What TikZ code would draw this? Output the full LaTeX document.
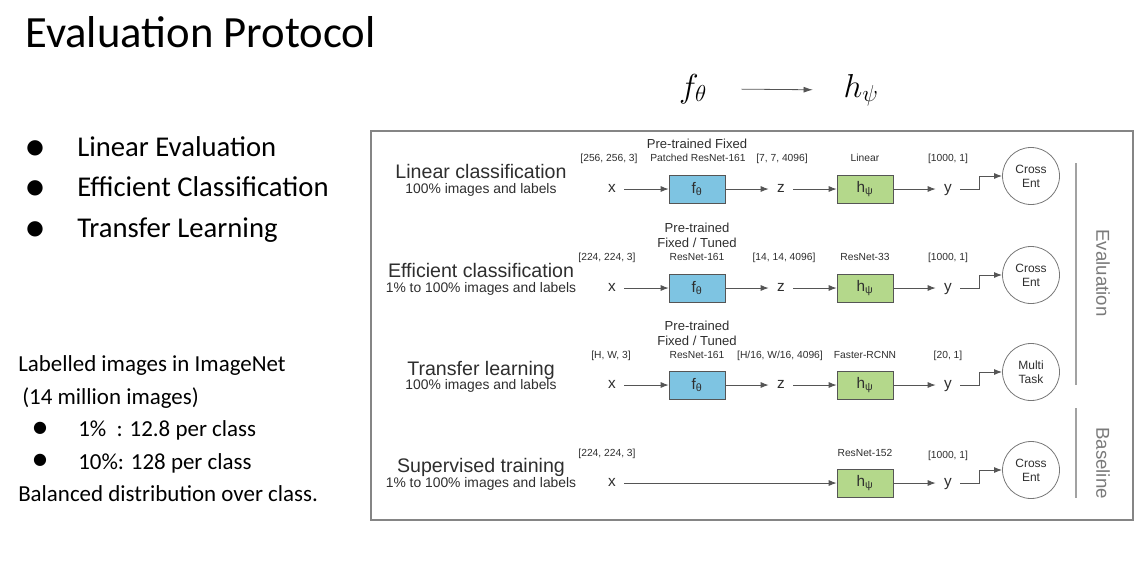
\documentclass[tikz,border=0pt]{standalone}
\usepackage{fontspec}
\setmainfont{Carlito}
\newfontfamily\diagfont{Liberation Sans}
\newfontfamily\symfont{DejaVu Sans}
\usetikzlibrary{arrows.meta, positioning}
\definecolor{fblue}{HTML}{7EC4E2}
\definecolor{hgreen}{HTML}{B4D88B}
\definecolor{edge}{HTML}{555555}
\definecolor{ink}{HTML}{2E2E2E}
\definecolor{framegray}{HTML}{858585}
\definecolor{sidegray}{HTML}{7A7A7A}

\begin{document}
\begin{tikzpicture}[x=0.75pt, y=-0.75pt,
  arr/.style={draw=edge, line width=0.75pt, -{Latex[length=6pt,width=4.5pt]}},
  fbox/.style={draw=edge, fill=fblue, minimum width=42pt, minimum height=21pt, inner sep=0pt, text=ink, font=\diagfont\fontsize{11.5}{13}\selectfont},
  hbox/.style={fbox, fill=hgreen},
  varnode/.style={minimum width=18pt, inner sep=0pt, text height=0.52em, text depth=0pt, text=ink, font=\diagfont\fontsize{11.5}{13}\selectfont},
  lossnode/.style={circle, draw=edge!80, line width=0.6pt, minimum size=42.75pt, inner sep=0pt, align=center, text=ink, font=\diagfont\fontsize{9}{10.5}\selectfont},
  dimlabel/.style={anchor=base, inner sep=0pt, text=ink, font=\diagfont\fontsize{7.7}{9}\selectfont},
  pretrain/.style={anchor=base, inner sep=0pt, text=ink, font=\diagfont\fontsize{9.8}{11}\selectfont},
  rowtitle/.style={anchor=base, inner sep=0pt, text=ink, font=\diagfont\fontsize{14.7}{17}\selectfont},
  rowsub/.style={anchor=base, inner sep=0pt, text=ink, font=\diagfont\fontsize{10.4}{12}\selectfont},
  sidelabel/.style={rotate=-90, inner sep=0pt, text=sidegray, font=\diagfont\fontsize{14}{16}\selectfont},
  item/.style={anchor=base west, inner sep=0pt, font=\fontsize{21.5}{25}\selectfont},
  note/.style={anchor=base west, inner sep=0pt, font=\fontsize{17.2}{20}\selectfont},
  dot/.style={inner sep=0pt, font=\symfont\fontsize{15}{15}\selectfont}]
\useasboundingbox (0,0) rectangle (1148,565);

% slide text
\node[anchor=base west, inner sep=0pt, font=\fontsize{33.5}{40}\selectfont] (title) at (25,47) {Evaluation Protocol};
\node[dot] (d1) at (35,148) {●};
\node[item] (LE) at (77,156) {Linear Evaluation};
\node[dot] (d2) at (35,188.5) {●};
\node[item] (EC) at (77,196.5) {Efficient Classification};
\node[dot] (d3) at (35,229) {●};
\node[item] (TL) at (77,237) {Transfer Learning};

\node[note] (lab) at (18,371.5) {Labelled images in ImageNet};
\node[note] (mil) at (22,404) {(14 million images)};
\node[dot, scale=0.8] (d4) at (40,428) {●};
\node[note] (one) at (78,436.5) {1\%~~: 12.8 per class};
\node[dot, scale=0.8] (d5) at (40,460.5) {●};
\node[note] (ten) at (78,469) {10\%: 128 per class};
\node[note] (bal) at (18,501.5) {Balanced distribution over class.};

% f -> h
\node[anchor=base, font=\fontsize{23}{27}\selectfont] (ftop) at (693,97) {$f_\theta$};
\node[anchor=base, font=\fontsize{23}{27}\selectfont] (htop) at (861,97) {$h_\psi$};
\draw[draw=edge, line width=0.6pt, -{Latex[length=7pt,width=4.5pt]}, shorten <=22.5pt, shorten >=19.5pt] (ftop) -- (htop);

% frame
\draw[framegray, line width=1.5pt] (371,131) rectangle (1133,520);

% row 1
\node[rowtitle] (T1) at (481,178.5) {Linear classification};
\node[rowsub] (S1) at (481,193) {100\% images and labels};
\node[dimlabel] (D1) at (609,161.5) {[256, 256, 3]};
\node[pretrain] (P1) at (697,148.5) {Pre-trained Fixed};
\node[dimlabel] (M1) at (698,161.5) {Patched ResNet-161};
\node[dimlabel] (E1) at (782,161.5) {[7, 7, 4096]};
\node[dimlabel] (K1) at (865,161.5) {Linear};
\node[dimlabel] (O1) at (948,161.5) {[1000, 1]};
\node[varnode] (X1) at (612,189) {x};
\node[fbox] (F1) at (697,189) {f\textsubscript{θ}};
\node[varnode] (Z1) at (781,189) {z};
\node[hbox] (H1) at (865,189) {h\textsubscript{ψ}};
\node[varnode] (Y1) at (948,189) {y};
\node[lossnode] (L1) at (1031,176) {Cross\\Ent};
\draw[arr] (X1) -- (F1);
\draw[arr] (F1) -- (Z1);
\draw[arr] (Z1) -- (H1);
\draw[arr] (H1) -- (Y1);
\draw[arr] (Y1) -- ++(31,0) |- (L1);

% row 2
\node[rowtitle] (T2) at (481,277.5) {Efficient classification};
\node[rowsub] (S2) at (481,292) {1\% to 100\% images and labels};
\node[dimlabel] (D2) at (607,260.5) {[224, 224, 3]};
\node[pretrain] (P2) at (697,232) {Pre-trained};
\node[pretrain] (Q2) at (697,247.5) {Fixed / Tuned};
\node[dimlabel] (M2) at (697,260.5) {ResNet-161};
\node[dimlabel] (E2) at (784,260.5) {[14, 14, 4096]};
\node[dimlabel] (K2) at (865,260.5) {ResNet-33};
\node[dimlabel] (O2) at (948,260.5) {[1000, 1]};
\node[varnode] (X2) at (612,288) {x};
\node[fbox] (F2) at (697,288) {f\textsubscript{θ}};
\node[varnode] (Z2) at (781,288) {z};
\node[hbox] (H2) at (865,288) {h\textsubscript{ψ}};
\node[varnode] (Y2) at (948,288) {y};
\node[lossnode] (L2) at (1031,275) {Cross\\Ent};
\draw[arr] (X2) -- (F2);
\draw[arr] (F2) -- (Z2);
\draw[arr] (Z2) -- (H2);
\draw[arr] (H2) -- (Y2);
\draw[arr] (Y2) -- ++(31,0) |- (L2);

% row 3
\node[rowtitle] (T3) at (481,375) {Transfer learning};
\node[rowsub] (S3) at (481,389.5) {100\% images and labels};
\node[dimlabel] (D3) at (611,358.5) {[H, W, 3]};
\node[pretrain] (P3) at (697,330) {Pre-trained};
\node[pretrain] (Q3) at (697,345.5) {Fixed / Tuned};
\node[dimlabel] (M3) at (697,358.5) {ResNet-161};
\node[dimlabel] (E3) at (780,358.5) {[H/16, W/16, 4096]};
\node[dimlabel] (K3) at (865,358.5) {Faster-RCNN};
\node[dimlabel] (O3) at (948,358.5) {[20, 1]};
\node[varnode] (X3) at (612,385) {x};
\node[fbox] (F3) at (697,385) {f\textsubscript{θ}};
\node[varnode] (Z3) at (781,385) {z};
\node[hbox] (H3) at (865,385) {h\textsubscript{ψ}};
\node[varnode] (Y3) at (948,385) {y};
\node[lossnode] (L3) at (1031,372) {Multi\\Task};
\draw[arr] (X3) -- (F3);
\draw[arr] (F3) -- (Z3);
\draw[arr] (Z3) -- (H3);
\draw[arr] (H3) -- (Y3);
\draw[arr] (Y3) -- ++(31,0) |- (L3);

% row 4
\node[rowtitle] (T4) at (481,472.5) {Supervised training};
\node[rowsub] (S4) at (481,487) {1\% to 100\% images and labels};
\node[dimlabel] (D4) at (607,456.5) {[224, 224, 3]};
\node[dimlabel] (K4) at (865,456.5) {ResNet-152};
\node[dimlabel] (O4) at (948,458.5) {[1000, 1]};
\node[varnode] (X4) at (612,483) {x};
\node[hbox] (H4) at (865,483) {h\textsubscript{ψ}};
\node[varnode] (Y4) at (948,483) {y};
\node[lossnode] (L4) at (1031,470) {Cross\\Ent};
\draw[arr] (X4) -- (H4);
\draw[arr] (H4) -- (Y4);
\draw[arr] (Y4) -- ++(31,0) |- (L4);

% side groups
\draw[sidegray!70, line width=0.8pt] (1076,163) -- (1076,385);
\draw[sidegray!70, line width=0.8pt] (1076,408) -- (1076,498);
\node[sidelabel] (EV) at (1103,273) {Evaluation};
\node[sidelabel] (BL) at (1103,463) {Baseline};
\end{tikzpicture}
\end{document}
